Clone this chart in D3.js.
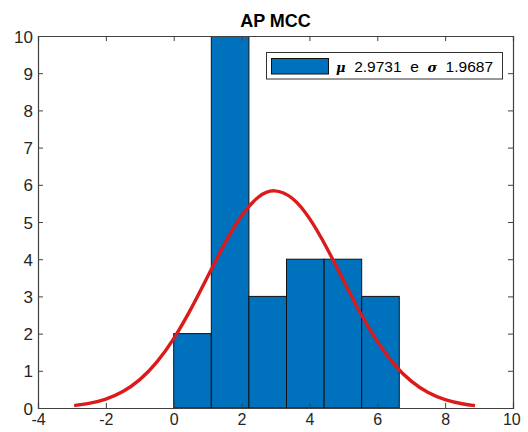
<!DOCTYPE html>
<html><head><meta charset="utf-8">
<script src="https://cdn.jsdelivr.net/npm/d3@7"></script>
<style>
html,body{margin:0;padding:0;background:#fff;}
svg{display:block;font-family:Arial,"Liberation Sans",sans-serif;}
text{white-space:pre;}
</style></head>
<body>
<script>
// Histogram data
const binEdges = [0, 1.108, 2.216, 3.324, 4.432, 5.54, 6.648];
const binCounts = [2, 10, 3, 4, 4, 3];
// Fitted normal curve
const curveX = [-2.933,-2.5,-2,-1.5,-1,-0.5,0,0.5,1,1.5,2,2.5,2.9731,3.5,4,4.5,5,5.5,6,6.5,7,7.5,8,8.5,8.879];
const curveY = [0.065,0.123,0.240,0.442,0.762,1.232,1.867,2.652,3.533,4.412,5.167,5.672,5.838,5.633,5.096,4.322,3.436,2.562,1.790,1.173,0.721,0.415,0.224,0.113,0.065];
const xTicks = [-4,-2,0,2,4,6,8,10];
const yTicks = [0,1,2,3,4,5,6,7,8,9,10];
const titleText = "AP MCC";
const legendMu = "2.9731";
const legendSigma = "1.9687";

const W = 528, H = 432;
const m = {l:38, r:15, t:36, b:24};
const svg = d3.select("body").append("svg").attr("width", W).attr("height", H);
const x = d3.scaleLinear().domain([-4,10]).range([m.l, W-m.r]);
const y = d3.scaleLinear().domain([0,10]).range([H-m.b, m.t]);

svg.append("defs").append("clipPath").attr("id","clip")
  .append("rect").attr("x",m.l).attr("y",m.t).attr("width",W-m.l-m.r).attr("height",H-m.t-m.b);

const plot = svg.append("g").attr("clip-path","url(#clip)");
const bins = binCounts.map((c,i)=>({x0:binEdges[i], x1:binEdges[i+1], c}));
plot.selectAll("rect.bar").data(bins).join("rect")
  .attr("x", d=>x(d.x0)).attr("width", d=>x(d.x1)-x(d.x0))
  .attr("y", d=>y(d.c)).attr("height", d=>y(0)-y(d.c))
  .attr("fill","#0072BD").attr("stroke","#111").attr("stroke-width",1);

const pts = curveX.map((v,i)=>[v, curveY[i]]);
plot.append("path").datum(pts)
  .attr("d", d3.line().x(d=>x(d[0])).y(d=>y(d[1])).curve(d3.curveNatural))
  .attr("fill","none").attr("stroke","#DD1A1A").attr("stroke-width",3.4);

// Axes with inward ticks
const axCol = "#404040";
const tl = 5;
const fmt = d => String(d);
const gx = svg.append("g").attr("transform",`translate(0,${y(0)})`)
  .call(d3.axisBottom(x).tickValues(xTicks).tickSize(-tl).tickPadding(6).tickFormat(fmt));
const gxt = svg.append("g").attr("transform",`translate(0,${y(10)})`)
  .call(d3.axisTop(x).tickValues(xTicks).tickSize(-tl).tickFormat(""));
const gy = svg.append("g").attr("transform",`translate(${x(-4)},0)`)
  .call(d3.axisLeft(y).tickValues(yTicks).tickSize(-tl).tickPadding(5).tickFormat(fmt));
const gyr = svg.append("g").attr("transform",`translate(${x(10)},0)`)
  .call(d3.axisRight(y).tickValues(yTicks).tickSize(-tl).tickFormat(""));
[gx,gxt,gy,gyr].forEach(g=>{
  g.select(".domain").attr("stroke",axCol).attr("stroke-width",1.2);
  g.selectAll(".tick line").attr("stroke",axCol);
  g.selectAll(".tick text").attr("fill","#262626").attr("font-size",17).attr("font-family","Arial,'Liberation Sans',sans-serif");
});
gx.selectAll(".tick text").attr("font-size",16).attr("dy","0.71em");
gx.selectAll(".tick").filter(d=>d===10).select("text").attr("text-anchor","end").attr("dx","0.45em");
gy.selectAll(".tick text").attr("dy","0.36em");

// Title
svg.append("text").attr("x",(x(-4)+x(10))/2).attr("y",27).attr("text-anchor","middle")
  .attr("font-size",18).attr("font-weight","bold").attr("fill","#000").text(titleText);

// Legend
const lg = svg.append("g");
lg.append("rect").attr("x",266.5).attr("y",52.5).attr("width",236).attr("height",26.5)
  .attr("fill","#fff").attr("stroke","#333").attr("stroke-width",1);
lg.append("rect").attr("x",271.5).attr("y",58.5).attr("width",57).attr("height",15.5)
  .attr("fill","#0072BD").attr("stroke","#111").attr("stroke-width",1);
const lt = lg.append("text").attr("x",336).attr("y",71.5).attr("font-size",15.5).attr("fill","#000");
lt.append("tspan").attr("font-style","italic").attr("font-weight","bold").attr("font-family","'DejaVu Serif',serif").attr("font-size",13).text("μ");
lt.append("tspan").text("  " + legendMu + "  e  ");
lt.append("tspan").attr("font-style","italic").attr("font-weight","bold").attr("font-family","'DejaVu Serif',serif").attr("font-size",13).text("σ");
lt.append("tspan").text("  " + legendSigma);
</script>
</body></html>
